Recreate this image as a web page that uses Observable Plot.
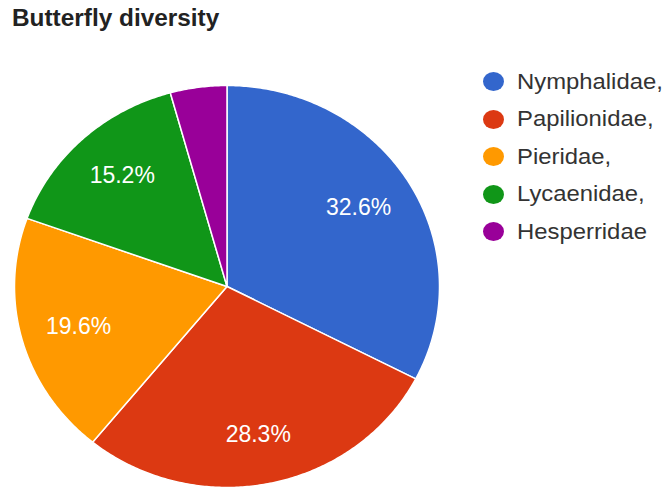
<!DOCTYPE html>
<html><head><meta charset="utf-8">
<script src="https://cdn.jsdelivr.net/npm/d3@7"></script>
<script src="https://cdn.jsdelivr.net/npm/@observablehq/plot@0.6"></script>
<style>
body{margin:0;background:#fff;font-family:"Liberation Sans",Arial,sans-serif;}
#wrap{position:relative;width:667px;height:489px;overflow:hidden;}
#chart{position:absolute;left:0;top:0;}
#title{position:absolute;left:12px;top:7px;font-weight:bold;font-size:23px;color:#222;line-height:1;transform:scaleX(1.06);transform-origin:0 0;white-space:nowrap;}
#legend{position:absolute;left:483px;top:62.75px;}
.item{display:flex;align-items:center;height:37.5px;font-size:22.5px;color:#333;white-space:nowrap;}
.item .tx{display:inline-block;transform:scaleX(1.06);transform-origin:0 50%;}
.sw{width:21px;height:19px;border-radius:50%;margin-right:13px;flex:none;}
</style></head><body>
<div id="wrap"><div id="chart"></div><div id="title">Butterfly diversity</div><div id="legend"></div></div>
<script>
const families = ["Nymphalidae","Papilionidae","Pieridae","Lycaenidae","Hesperridae"];
const shares = [32.6,28.3,19.6,15.2,4.3];
const sliceLabels = ["32.6%","28.3%","19.6%","15.2%",""];
const legendLabels = ["Nymphalidae,","Papilionidae,","Pieridae,","Lycaenidae,","Hesperridae"];
const colors = ["#3366cc","#dc3912","#ff9900","#109618","#990099"];

const total = d3.sum(shares);
const pts = [];
const labs = [];
let acc = 0;
families.forEach((name, i) => {
  const a0 = acc / total * 2 * Math.PI;
  acc += shares[i];
  const a1 = acc / total * 2 * Math.PI;
  pts.push({name, x: 0, y: 0});
  const n = Math.max(2, Math.ceil((a1 - a0) / 0.01));
  for (let k = 0; k <= n; k++) {
    const a = a0 + (a1 - a0) * k / n;
    pts.push({name, x: Math.sin(a), y: Math.cos(a)});
  }
  pts.push({name, x: 0, y: 0});
  const am = (a0 + a1) / 2;
  labs.push({name, text: sliceLabels[i], x: 0.725 * Math.sin(am), y: 0.755 * Math.cos(am)});
});

const chart = Plot.plot({
  width: 667, height: 489, margin: 0,
  style: {fontFamily: '"Liberation Sans", Arial, sans-serif', background: "transparent"},
  x: {domain: [-1, 1], range: [14, 439], axis: null},
  y: {domain: [-1, 1], range: [487, 85], axis: null},
  color: {domain: families, range: colors},
  marks: [
    Plot.line(pts, {x: "x", y: "y", z: "name", fill: "name", stroke: "white", strokeWidth: 1.5, curve: "linear"}),
    Plot.text(labs, {x: "x", y: "y", text: "text", fill: "white", fontSize: 23})
  ]
});
document.getElementById("chart").appendChild(chart);

const leg = document.getElementById("legend");
legendLabels.forEach((t, i) => {
  const it = document.createElement("div");
  it.className = "item";
  const sw = document.createElement("span");
  sw.className = "sw";
  sw.style.background = colors[i];
  const tx = document.createElement("span");
  tx.className = "tx";
  tx.textContent = t;
  it.appendChild(sw); it.appendChild(tx);
  leg.appendChild(it);
});
</script>
</body></html>
